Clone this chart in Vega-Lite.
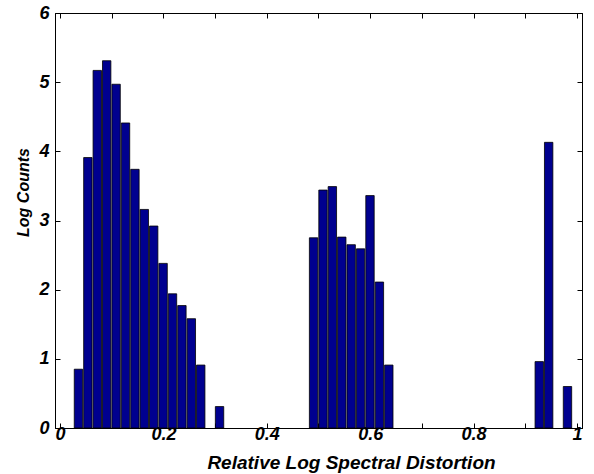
{
  "$schema": "https://vega.github.io/schema/vega-lite/v6.json",
  "autosize": {"type": "none"},
  "padding": {"left": 55, "top": 13, "right": 12, "bottom": 46},
  "width": 527,
  "height": 415,
  "background": "white",
  "config": {
    "view": {"stroke": "black", "strokeWidth": 1},
    "font": "Liberation Sans",
    "axis": {
      "labelFont": "Liberation Sans",
      "labelFontWeight": "bold",
      "labelFontStyle": "italic",
      "labelColor": "black",
      "titleFont": "Liberation Sans",
      "titleFontWeight": "bold",
      "titleFontStyle": "italic",
      "titleColor": "black",
      "tickColor": "black",
      "domainColor": "black",
      "tickSize": -5,
      "grid": false
    }
  },
  "data": {
    "values": [
      {"x": 0.0357, "count": 0.85},
      {"x": 0.0539, "count": 3.91},
      {"x": 0.0721, "count": 5.17},
      {"x": 0.0903, "count": 5.31},
      {"x": 0.1085, "count": 4.97},
      {"x": 0.1267, "count": 4.41},
      {"x": 0.1449, "count": 3.74},
      {"x": 0.1630, "count": 3.16},
      {"x": 0.1812, "count": 2.92},
      {"x": 0.1994, "count": 2.38},
      {"x": 0.2176, "count": 1.94},
      {"x": 0.2358, "count": 1.77},
      {"x": 0.2540, "count": 1.58},
      {"x": 0.2722, "count": 0.91},
      {"x": 0.3086, "count": 0.31},
      {"x": 0.4905, "count": 2.75},
      {"x": 0.5087, "count": 3.44},
      {"x": 0.5268, "count": 3.49},
      {"x": 0.5450, "count": 2.76},
      {"x": 0.5632, "count": 2.65},
      {"x": 0.5814, "count": 2.59},
      {"x": 0.5996, "count": 3.36},
      {"x": 0.6178, "count": 2.11},
      {"x": 0.6360, "count": 0.91},
      {"x": 0.9270, "count": 0.96},
      {"x": 0.9452, "count": 4.13},
      {"x": 0.9816, "count": 0.60}
    ]
  },
  "layer": [
    {
      "mark": {"type": "bar", "size": 8.4, "fill": "#00008f", "stroke": "black", "strokeWidth": 0.8},
      "encoding": {
        "x": {
          "field": "x",
          "type": "quantitative",
          "scale": {"domain": [0, 1], "nice": false, "zero": false},
          "axis": {
            "orient": "bottom",
            "title": "Relative Log Spectral Distortion",
            "titleFontSize": 19,
            "titleAlign": "center",
            "titleBaseline": "alphabetic",
            "titleAnchor": null,
            "titleX": 296,
            "titleY": 40,
            "values": [0, 0.1, 0.2, 0.3, 0.4, 0.5, 0.6, 0.7, 0.8, 0.9, 1],
            "labelExpr": "round(datum.value*10)%2==0 ? format(datum.value, '~g') : ''",
            "labelFontSize": 18,
            "labelPadding": 2,
            "labelOverlap": false,
            "labelFlush": false
          }
        },
        "y": {
          "field": "count",
          "type": "quantitative",
          "scale": {"domain": [0, 6], "nice": false},
          "axis": {
            "orient": "left",
            "title": "Log Counts",
            "titleFontSize": 16,
            "titleAngle": -90,
            "titleAlign": "center",
            "titleBaseline": "alphabetic",
            "titleAnchor": null,
            "titleX": -27,
            "titleY": 179,
            "values": [0, 1, 2, 3, 4, 5, 6],
            "labelFontSize": 18,
            "labelPadding": 11,
            "labelOverlap": false,
            "labelFlush": false
          }
        }
      }
    },
    {
      "mark": {"type": "bar", "size": 8.4, "opacity": 0},
      "encoding": {
        "x": {
          "field": "x",
          "type": "quantitative",
          "axis": {
            "orient": "top",
            "title": null,
            "labels": false,
            "values": [0, 0.1, 0.2, 0.3, 0.4, 0.5, 0.6, 0.7, 0.8, 0.9, 1]
          }
        },
        "y": {
          "field": "count",
          "type": "quantitative",
          "axis": {
            "orient": "right",
            "title": null,
            "labels": false,
            "values": [0, 1, 2, 3, 4, 5, 6]
          }
        }
      }
    }
  ]
}
